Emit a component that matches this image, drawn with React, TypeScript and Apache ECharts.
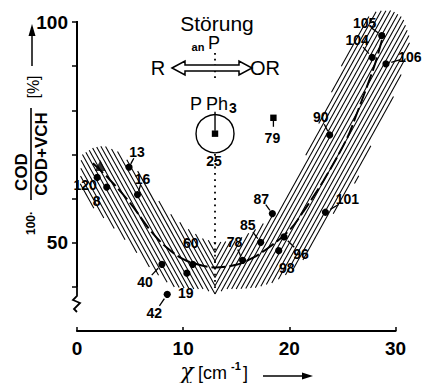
import React, { useEffect, useRef } from "react";
import * as echarts from "echarts";

// ---- data ----
const pointLabels = ["120", "8", "13", "16", "40", "42", "19", "60", "78", "85", "87", "98", "96", "101", "90", "104", "105", "106"];
const pointX = [1.9, 2.8, 4.9, 5.7, 8.0, 8.5, 10.35, 10.9, 15.6, 17.3, 18.4, 19.0, 19.5, 23.4, 23.8, 27.8, 28.7, 29.1];
const pointY = [64.8, 62.6, 67.1, 60.9, 45.1, 38.3, 43.1, 45.1, 46.0, 50.1, 56.6, 48.2, 51.3, 56.9, 74.4, 92.0, 96.9, 90.5];

const triangleX = [2.2];
const triangleY = [67.5];

const squareLabels = ["25", "79"];
const squareX = [13.0, 18.5];
const squareY = [74.7, 78.3];

const curveX = [1.5, 3, 5, 7, 8.5, 10, 11.5, 13, 15, 16.5, 18, 20, 21.3, 23.2, 25.4, 26.4, 27.3, 28.1, 28.9];
const curveY = [68, 64.5, 59, 52.5, 48.8, 46.3, 45, 44.4, 45, 46.5, 48.8, 52.8, 57, 64, 73.5, 79.5, 85.3, 90.7, 97.5];

// hatched scatter band (left part and right part, split at chi = 13)
const leftBandUpper: [number, number][] = [[0.3, 63], [0.4, 69.8], [1.5, 71.5], [2.5, 72], [4, 70.5], [6, 65.5], [7.5, 60], [9, 56], [10.5, 53], [11.8, 51], [13, 50]];
const leftBandLower: [number, number][] = [[13, 38.3], [12, 39.5], [11, 39.5], [9, 40], [7, 44], [5, 49.5], [3, 54.5], [1.5, 58]];
const rightBandUpper: [number, number][] = [[13, 50], [15, 50.5], [16.8, 53], [18.2, 55.5], [19.2, 59], [20.9, 66], [22.6, 76], [23.8, 83], [24.9, 90], [25.9, 96], [27, 100.5], [28.3, 102.5], [29.7, 102.6], [30.7, 101], [31.4, 96]];
const rightBandLower: [number, number][] = [[30.3, 86], [28.9, 77.7], [27.6, 71.6], [26.4, 64.3], [24.5, 57.8], [22.9, 52.5], [21.7, 47.2], [20.5, 44], [18.5, 41], [16.8, 39.8], [15, 39.5], [14, 39.5], [13, 38.3]];

const xTicks = [0, 10, 20, 30];
const yTicks = [40, 50, 60, 70, 80, 90, 100];
const yTickLabels = [50, 100];

// ---- label placement (style, not data) ----
const LABEL_STYLE: Record<string, { dx: number; dy: number; lead: boolean }> = {
  "120": { dx: -12, dy: 8, lead: false },
  "8": { dx: -10, dy: 14, lead: false },
  "13": { dx: 8, dy: -15, lead: true },
  "16": { dx: 5, dy: -16, lead: true },
  "40": { dx: -17, dy: 18, lead: true },
  "42": { dx: -13, dy: 19, lead: true },
  "19": { dx: -1, dy: 20, lead: false },
  "60": { dx: -2, dy: -21, lead: false },
  "78": { dx: -8, dy: -18, lead: true },
  "85": { dx: -13, dy: -17, lead: true },
  "87": { dx: -11, dy: -15, lead: true },
  "98": { dx: 8, dy: 17, lead: false },
  "96": { dx: 17, dy: 17, lead: true },
  "101": { dx: 22, dy: -13, lead: true },
  "90": { dx: -9, dy: -18, lead: true },
  "104": { dx: -15, dy: -17, lead: true },
  "105": { dx: -17, dy: -13, lead: true },
  "106": { dx: 24, dy: -7, lead: true },
};

const FONT = '"Liberation Sans", Arial, sans-serif';

function hatch(poly: number[][], xs: number, ys: number, h: number, angleDeg: number, dirSign: number) {
  const th = (angleDeg * Math.PI) / 180;
  const d = [Math.cos(th), dirSign * Math.sin(th)];
  const n = [-d[1], d[0]];
  const segs: number[][] = [];
  for (let k = -160; k <= 160; k++) {
    const q = [xs + dirSign * k * h, ys];
    const ts: number[] = [];
    for (let i = 0; i < poly.length; i++) {
      const a = poly[i];
      const b = poly[(i + 1) % poly.length];
      const fa = n[0] * (a[0] - q[0]) + n[1] * (a[1] - q[1]);
      const fb = n[0] * (b[0] - q[0]) + n[1] * (b[1] - q[1]);
      if (fa < 0 !== fb < 0) {
        const t = fa / (fa - fb);
        const px = a[0] + t * (b[0] - a[0]);
        const py = a[1] + t * (b[1] - a[1]);
        ts.push(d[0] * (px - q[0]) + d[1] * (py - q[1]));
      }
    }
    ts.sort((u, v) => u - v);
    for (let j = 0; j + 1 < ts.length; j += 2) {
      segs.push([q[0] + d[0] * ts[j], q[1] + d[1] * ts[j], q[0] + d[0] * ts[j + 1], q[1] + d[1] * ts[j + 1]]);
    }
  }
  return segs;
}

export default function App() {
  const ref = useRef<HTMLDivElement>(null);
  useEffect(() => {
    if (!ref.current) return;
    const chart = echarts.init(ref.current, undefined, { renderer: "svg" });

    const bandPolys = [
      [...leftBandUpper, ...leftBandLower],
      [...rightBandUpper, ...rightBandLower],
    ];

    const option: any = {
      animation: false,
      backgroundColor: "#fff",
      textStyle: { fontFamily: FONT },
      grid: { left: 77, right: 27.5, top: 22, bottom: 52 },
      xAxis: {
        type: "value",
        min: 0,
        max: 30,
        interval: 10,
        axisLine: { show: true, onZero: false, lineStyle: { color: "#000", width: 2.2 } },
        axisTick: { show: true, inside: true, length: 4, lineStyle: { color: "#000", width: 1.5 }, customValues: xTicks },
        axisLabel: { color: "#000", fontSize: 19, fontWeight: "bold", margin: 8, fontFamily: FONT, customValues: xTicks },
        splitLine: { show: false },
      },
      yAxis: {
        type: "value",
        min: 30,
        max: 100,
        interval: 10,
        axisLine: { show: false },
        axisTick: { show: true, inside: false, length: 5, lineStyle: { color: "#000", width: 1.5 }, customValues: yTicks },
        axisLabel: { color: "#000", fontSize: 19, fontWeight: "bold", margin: 9, fontFamily: FONT, customValues: yTickLabels },
        splitLine: { show: false },
      },
      series: [
        {
          type: "custom",
          clip: false,
          z: 1,
          silent: true,
          data: [[13, 50], [13, 50]],
          renderItem: (params: any, api: any) => {
            const poly = bandPolys[params.dataIndex].map((p) => api.coord(p));
            const xs = api.coord([13, 44])[0];
            const ys = api.coord([13, 44])[1];
            const segs = hatch(poly, xs, ys, 4.6, 61, params.dataIndex === 0 ? 1 : -1);
            return {
              type: "group",
              children: segs.map((s) => ({
                type: "line",
                shape: { x1: s[0], y1: s[1], x2: s[2], y2: s[3] },
                style: { stroke: "#000", lineWidth: 1.05 },
              })),
            };
          },
        },
        {
          type: "line",
          z: 2,
          smooth: 0.35,
          symbol: "none",
          data: curveX.map((x, i) => [x, curveY[i]]),
          lineStyle: { color: "#000", width: 2, type: [14, 4] },
        },
        {
          type: "scatter",
          z: 3,
          symbol: "triangle",
          symbolSize: 11,
          itemStyle: { color: "#000" },
          data: triangleX.map((x, i) => [x, triangleY[i]]),
        },
        {
          type: "custom",
          z: 4,
          clip: false,
          data: pointX.map((x, i) => [x, pointY[i]]),
          encode: { x: 0, y: 1 },
          renderItem: (params: any, api: any) => {
            const p = api.coord([api.value(0), api.value(1)]);
            const lab = pointLabels[params.dataIndex];
            const st = LABEL_STYLE[lab] || { dx: 0, dy: -16, lead: false };
            const children: any[] = [
              { type: "circle", shape: { cx: p[0], cy: p[1], r: 3.6 }, style: { fill: "#000" } },
              {
                type: "text",
                style: {
                  text: lab,
                  x: p[0] + st.dx,
                  y: p[1] + st.dy,
                  align: "center",
                  verticalAlign: "middle",
                  fontSize: 14,
                  fontWeight: "bold",
                  fontFamily: FONT,
                  fill: "#000",
                },
              },
            ];
            if (st.lead) {
              children.push({
                type: "line",
                shape: {
                  x1: p[0] + st.dx * 0.6,
                  y1: p[1] + st.dy * 0.6,
                  x2: p[0] + st.dx * 0.22,
                  y2: p[1] + st.dy * 0.22,
                },
                style: { stroke: "#000", lineWidth: 1.3 },
              });
            }
            return { type: "group", children };
          },
        },
        {
          type: "custom",
          z: 4,
          clip: false,
          data: squareX.map((x, i) => [x, squareY[i]]),
          encode: { x: 0, y: 1 },
          renderItem: (params: any, api: any) => {
            const p = api.coord([api.value(0), api.value(1)]);
            const lab = squareLabels[params.dataIndex];
            const children: any[] = [
              { type: "rect", shape: { x: p[0] - 3.2, y: p[1] - 3.2, width: 6.4, height: 6.4 }, style: { fill: "#000" } },
            ];
            if (params.dataIndex === 0) {
              children.push({ type: "circle", shape: { cx: p[0], cy: p[1], r: 19 }, style: { fill: "none", stroke: "#000", lineWidth: 1.4 } });
              children.push({ type: "line", shape: { x1: p[0], y1: p[1] - 22, x2: p[0], y2: p[1] - 3 }, style: { stroke: "#000", lineWidth: 1.4 } });
              children.push({ type: "text", style: { text: lab, x: p[0] - 1, y: p[1] + 27, align: "center", verticalAlign: "middle", fontSize: 14, fontWeight: "bold", fontFamily: FONT, fill: "#000" } });
            } else {
              children.push({ type: "line", shape: { x1: p[0], y1: p[1], x2: p[0], y2: p[1] + 9 }, style: { stroke: "#000", lineWidth: 1.3 } });
              children.push({ type: "text", style: { text: lab, x: p[0] - 1, y: p[1] + 20, align: "center", verticalAlign: "middle", fontSize: 14, fontWeight: "bold", fontFamily: FONT, fill: "#000" } });
            }
            return { type: "group", children };
          },
        },
      ],
      graphic: [
        // y axis line with break
        { type: "line", shape: { x1: 77, y1: 21, x2: 77, y2: 287 }, style: { stroke: "#000", lineWidth: 2 } },
        { type: "polyline", shape: { points: [[77, 287], [77, 296], [73, 300], [80, 303], [74, 309], [77, 312]] }, style: { stroke: "#000", lineWidth: 1.8, fill: "none" } },
        // dotted vertical line at chi = 13
        { type: "line", shape: { x1: 215, y1: 53, x2: 215, y2: 78 }, style: { stroke: "#000", lineWidth: 1.8, lineDash: [1.8, 4] } },
        { type: "line", shape: { x1: 215, y1: 154, x2: 215, y2: 290 }, style: { stroke: "#000", lineWidth: 1.8, lineDash: [1.8, 4.5] }, z: 5 },
        // top annotation
        { type: "text", x: 217, y: 23, style: { text: "Störung", fontSize: 21, fontFamily: FONT, fill: "#000", align: "center", verticalAlign: "middle" } },
        { type: "text", x: 198, y: 47, style: { text: "an", fontSize: 11, fontWeight: "bold", fontFamily: FONT, fill: "#000", align: "center", verticalAlign: "middle" } },
        { type: "text", x: 214, y: 43, style: { text: "P", fontSize: 18, fontFamily: FONT, fill: "#000", align: "center", verticalAlign: "middle" } },
        { type: "polygon", shape: { points: [[172, 68], [185, 61], [185, 65], [239, 65], [239, 61], [252, 68], [239, 75], [239, 71], [185, 71], [185, 75]] }, style: { fill: "#fff", stroke: "#000", lineWidth: 1.5 }, z: 4 },
        { type: "text", x: 158, y: 68, style: { text: "R", fontSize: 20, fontFamily: FONT, fill: "#000", align: "center", verticalAlign: "middle" } },
        { type: "text", x: 265, y: 68, style: { text: "OR", fontSize: 20, fontFamily: FONT, fill: "#000", align: "center", verticalAlign: "middle" } },
        { type: "text", x: 196, y: 103.5, style: { text: "P", fontSize: 18, fontFamily: FONT, fill: "#000", align: "center", verticalAlign: "middle" } },
        { type: "text", x: 217, y: 103.5, style: { text: "Ph", fontSize: 18, fontFamily: FONT, fill: "#000", align: "center", verticalAlign: "middle" } },
        { type: "text", x: 233, y: 108, style: { text: "3", fontSize: 14, fontWeight: "bold", fontFamily: FONT, fill: "#000", align: "center", verticalAlign: "middle" } },
        // y axis title (rotated)
        { type: "text", x: 31, y: 223, rotation: Math.PI / 2, style: { text: "100·", fontSize: 12, fontWeight: "bold", fontFamily: FONT, fill: "#000", align: "center", verticalAlign: "middle" } },
        { type: "text", x: 21, y: 172, rotation: Math.PI / 2, style: { text: "COD", fontSize: 17, fontWeight: "bold", fontFamily: FONT, fill: "#000", align: "center", verticalAlign: "middle" } },
        { type: "line", shape: { x1: 31, y1: 108, x2: 31, y2: 200 }, style: { stroke: "#000", lineWidth: 1.6 } },
        { type: "text", x: 41, y: 154, rotation: Math.PI / 2, style: { text: "COD+VCH", fontSize: 17, fontWeight: "bold", fontFamily: FONT, fill: "#000", align: "center", verticalAlign: "middle" } },
        { type: "text", x: 33, y: 87, rotation: Math.PI / 2, style: { text: "[%]", fontSize: 16, fontFamily: FONT, fill: "#000", align: "center", verticalAlign: "middle" } },
        { type: "line", shape: { x1: 32, y1: 66, x2: 32, y2: 33 }, style: { stroke: "#000", lineWidth: 1.5 } },
        { type: "polygon", shape: { points: [[28.5, 36], [35.5, 36], [32, 24]] }, style: { fill: "#000" } },
        // x axis title
        { type: "text", x: 187, y: 371, style: { text: "χ", fontSize: 22, fontStyle: "italic", fontFamily: '"DejaVu Serif", serif', fill: "#000", align: "center", verticalAlign: "middle" } },
        { type: "text", x: 198, y: 373, style: { text: "[cm", fontSize: 18, fontFamily: FONT, fill: "#000", align: "left", verticalAlign: "middle" } },
        { type: "text", x: 231, y: 366, style: { text: "-1", fontSize: 11, fontWeight: "bold", fontFamily: FONT, fill: "#000", align: "left", verticalAlign: "middle" } },
        { type: "text", x: 243, y: 373, style: { text: "]", fontSize: 18, fontFamily: FONT, fill: "#000", align: "left", verticalAlign: "middle" } },
        { type: "line", shape: { x1: 263, y1: 376, x2: 304, y2: 376 }, style: { stroke: "#000", lineWidth: 1.5 } },
        { type: "polygon", shape: { points: [[302, 372.5], [302, 379.5], [313, 376]] }, style: { fill: "#000" } },
      ],
    };
    chart.setOption(option);
    return () => chart.dispose();
  }, []);
  return <div ref={ref} style={{ position: "fixed", left: 0, top: 0, width: 423, height: 383 }} />;
}
